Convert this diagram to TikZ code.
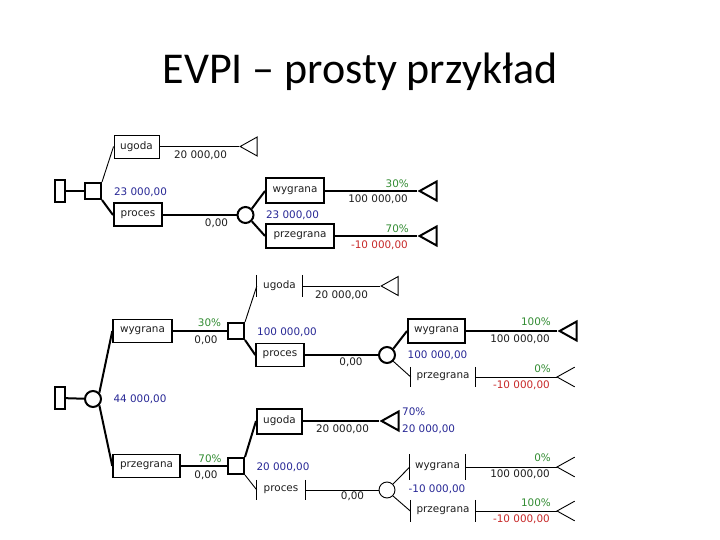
\documentclass[tikz,border=0pt]{standalone}
\usepackage{fontspec}
\setmainfont{DejaVu Sans}
\newfontfamily\ttlfont{Carlito}
\usepackage{tikz}
\usetikzlibrary{shapes.geometric}
\definecolor{valblue}{RGB}{40,40,150}
\definecolor{probgreen}{RGB}{50,140,50}
\definecolor{lossred}{RGB}{200,40,40}
\definecolor{ink}{RGB}{30,30,30}

\begin{document}
\begin{tikzpicture}[
  x=1pt, y=-1pt,
  font=\fontsize{10.4}{12}\selectfont,
  thk/.style={line width=2pt},
  mid/.style={line width=1.4pt},
  thn/.style={line width=0.9pt},
  base/.style={rectangle, minimum height=23pt, inner sep=0pt, text=ink},
  hbox/.style={base, draw, thk},
  mbox/.style={base, draw, mid},
  lbox/.style={base, draw, thn},
  sbox/.style={base, append after command={(\tikzlastnode.north west) edge[thn] (\tikzlastnode.south west) (\tikzlastnode.north east) edge[thn] (\tikzlastnode.south east)}},
  rootn/.style={rectangle, draw, thk, minimum width=10pt, minimum height=22pt, inner sep=0pt},
  decn/.style={rectangle, draw, thk, minimum size=16pt, inner sep=0pt},
  chn/.style={circle, draw, minimum size=16pt, inner sep=0pt},
  endn/.style={isosceles triangle, shape border rotate=180, isosceles triangle stretches, minimum width=19pt, minimum height=17pt, inner sep=0pt, anchor=apex},
  val/.style={text=ink, inner sep=0pt},
  ev/.style={text=valblue, inner sep=0pt},
  pr/.style={text=probgreen, inner sep=0pt},
  neg/.style={text=lossred, inner sep=0pt}
]
\fill[white] (0,0) rectangle (720,540);
\useasboundingbox (0,0) rectangle (720,540);

\node[font=\ttlfont\fontsize{44}{50}\selectfont, anchor=base] (ttl) at (360,84) {EVPI – prosty przykład};

% first tree
\node[rootn] (r1) at (60,191) {};
\node[decn] (d1) at (93,191) {};
\node[lbox, minimum width=45pt] (u1) at (136.5,146.5) {ugoda};
\node[hbox, minimum width=48pt] (p1) at (138,215) {proces};
\node[chn, thk] (c1) at (245.5,215) {};
\node[hbox, minimum width=58pt, minimum height=25pt] (w1) at (295,191) {wygrana};
\node[hbox, minimum width=68pt] (g1) at (300,236) {przegrana};
\node[endn, draw, thn] (t1) at (239,146.5) {};
\node[endn, draw, thk] (t2) at (417,191) {};
\node[endn, draw, thk] (t3) at (417,236) {};

\draw[thk] (r1) -- (d1);
\draw[thn] (d1.north east) -- (u1.west);
\draw[thk] (d1.south east) -- (p1.west);
\draw[thn] (u1.east) -- (t1.apex);
\draw[thk] (p1.east) -- (c1);
\draw[thk] (c1.north east) -- (w1.west);
\draw[thk] (c1.south east) -- (g1.west);
\draw[thk] (w1.east) -- (t2.apex);
\draw[thk] (g1.east) -- (t3.apex);

\node[val] (u1v) at (200.5,155) {20 000,00};
\node[ev] (d1v) at (140.5,192) {23 000,00};
\node[val] (p1v) at (216.5,223) {0,00};
\node[ev] (c1v) at (292.5,215) {23 000,00};
\node[pr, anchor=east] (w1p) at (409,184) {30\%};
\node[val, anchor=east] (w1v) at (408,199) {100 000,00};
\node[pr, anchor=east] (g1p) at (409,229) {70\%};
\node[neg, anchor=east] (g1v) at (408,245) {-10 000,00};

% second tree
\node[rootn] (r2) at (60,398) {};
\node[chn, thk] (c2) at (93,399) {};
\node[mbox, minimum width=59pt] (w2) at (142.5,331) {wygrana};
\node[mbox, minimum width=67pt] (g2) at (146.5,466) {przegrana};
\node[decn] (d2) at (236,331) {};
\node[decn] (d3) at (236,466) {};

\draw[thk] (r2) -- (c2);
\draw[thk] (c2.north east) -- (w2.west);
\draw[thk] (c2.south east) -- (g2.west);
\draw[thk] (w2.east) -- (d2);
\draw[thk] (g2.east) -- (d3);

\node[ev] (c2v) at (140,399) {44 000,00};
\node[pr] (w2p) at (209.5,323) {30\%};
\node[val] (w2v) at (206,340) {0,00};
\node[pr] (g2p) at (210,459) {70\%};
\node[val] (g2v) at (206,475) {0,00};

% after wygrana
\node[sbox, minimum width=45pt, minimum height=22pt] (u2) at (279.5,286) {ugoda};
\node[mbox, minimum width=48pt] (p2) at (280,355) {proces};
\node[chn, thk] (c3) at (387,355) {};
\node[hbox, minimum width=57pt, minimum height=24pt] (w3) at (436.5,331) {wygrana};
\node[sbox, minimum width=64pt, minimum height=20pt] (g3) at (443,377) {przegrana};
\node[endn, draw, thn] (t4) at (380,286) {};
\node[endn, draw, thk] (t5) at (557,331) {};
\node[endn] (t6) at (557,377) {};

\draw[thn] (d2.north east) -- (u2.west);
\draw[thk] (d2.south east) -- (p2.west);
\draw[thn] (u2.east) -- (t4.apex);
\draw[thk] (p2.east) -- (c3);
\draw[thk] (c3.north east) -- (w3.west);
\draw[thn] (c3.south east) -- (g3.west);
\draw[thk] (w3.east) -- (t5.apex);
\draw[thn] (g3.east) -- (t6.apex);
\draw[thn] (t6.left corner) -- (t6.apex) -- (t6.right corner);

\node[val] (u2v) at (341.5,295) {20 000,00};
\node[ev] (d2v) at (287,332) {100 000,00};
\node[val] (p2v) at (351,362) {0,00};
\node[ev] (c3v) at (437.5,355) {100 000,00};
\node[pr, anchor=east] (w3p) at (551,322) {100\%};
\node[val, anchor=east] (w3v) at (550,339) {100 000,00};
\node[pr, anchor=east] (g3p) at (551,369) {0\%};
\node[neg, anchor=east] (g3v) at (550,385) {-10 000,00};

% after przegrana
\node[hbox, minimum width=45pt, minimum height=25pt] (u3) at (279.5,421) {ugoda};
\node[endn, draw, thk] (t7) at (379,421) {};
\node[sbox, minimum width=48pt, minimum height=20pt] (p3) at (281,490) {proces};
\node[chn, thn] (c4) at (387,490) {};
\node[sbox, minimum width=55pt, minimum height=25pt] (w4) at (437.5,467) {wygrana};
\node[sbox, minimum width=65pt, minimum height=22pt] (g4) at (443,511) {przegrana};
\node[endn] (t8) at (557,467) {};
\node[endn] (t9) at (557,511) {};

\draw[thk] (d3.north east) -- (u3.west);
\draw[thn] (d3.south east) -- (p3.west);
\draw[thk] (u3.east) -- (t7.apex);
\draw[thn] (p3.east) -- (c4);
\draw[thn] (c4.north east) -- (w4.west);
\draw[thn] (c4.south east) -- (g4.west);
\draw[thn] (w4.east) -- (t8.apex);
\draw[thn] (g4.east) -- (t9.apex);
\draw[thn] (t8.left corner) -- (t8.apex) -- (t8.right corner);
\draw[thn] (t9.left corner) -- (t9.apex) -- (t9.right corner);

\node[val] (u3v) at (342.5,429) {20 000,00};
\node[ev, anchor=west] (t7p) at (402,412) {70\%};
\node[ev, anchor=west] (t7v) at (402,429) {20 000,00};
\node[ev] (d3v) at (283,467) {20 000,00};
\node[val] (p3v) at (352.5,496) {0,00};
\node[ev] (c4v) at (437,489) {-10 000,00};
\node[pr, anchor=east] (w4p) at (551,458) {0\%};
\node[val, anchor=east] (w4v) at (550,474) {100 000,00};
\node[pr, anchor=east] (g4p) at (551,503) {100\%};
\node[neg, anchor=east] (g4v) at (550,519) {-10 000,00};
\end{tikzpicture}
\end{document}
